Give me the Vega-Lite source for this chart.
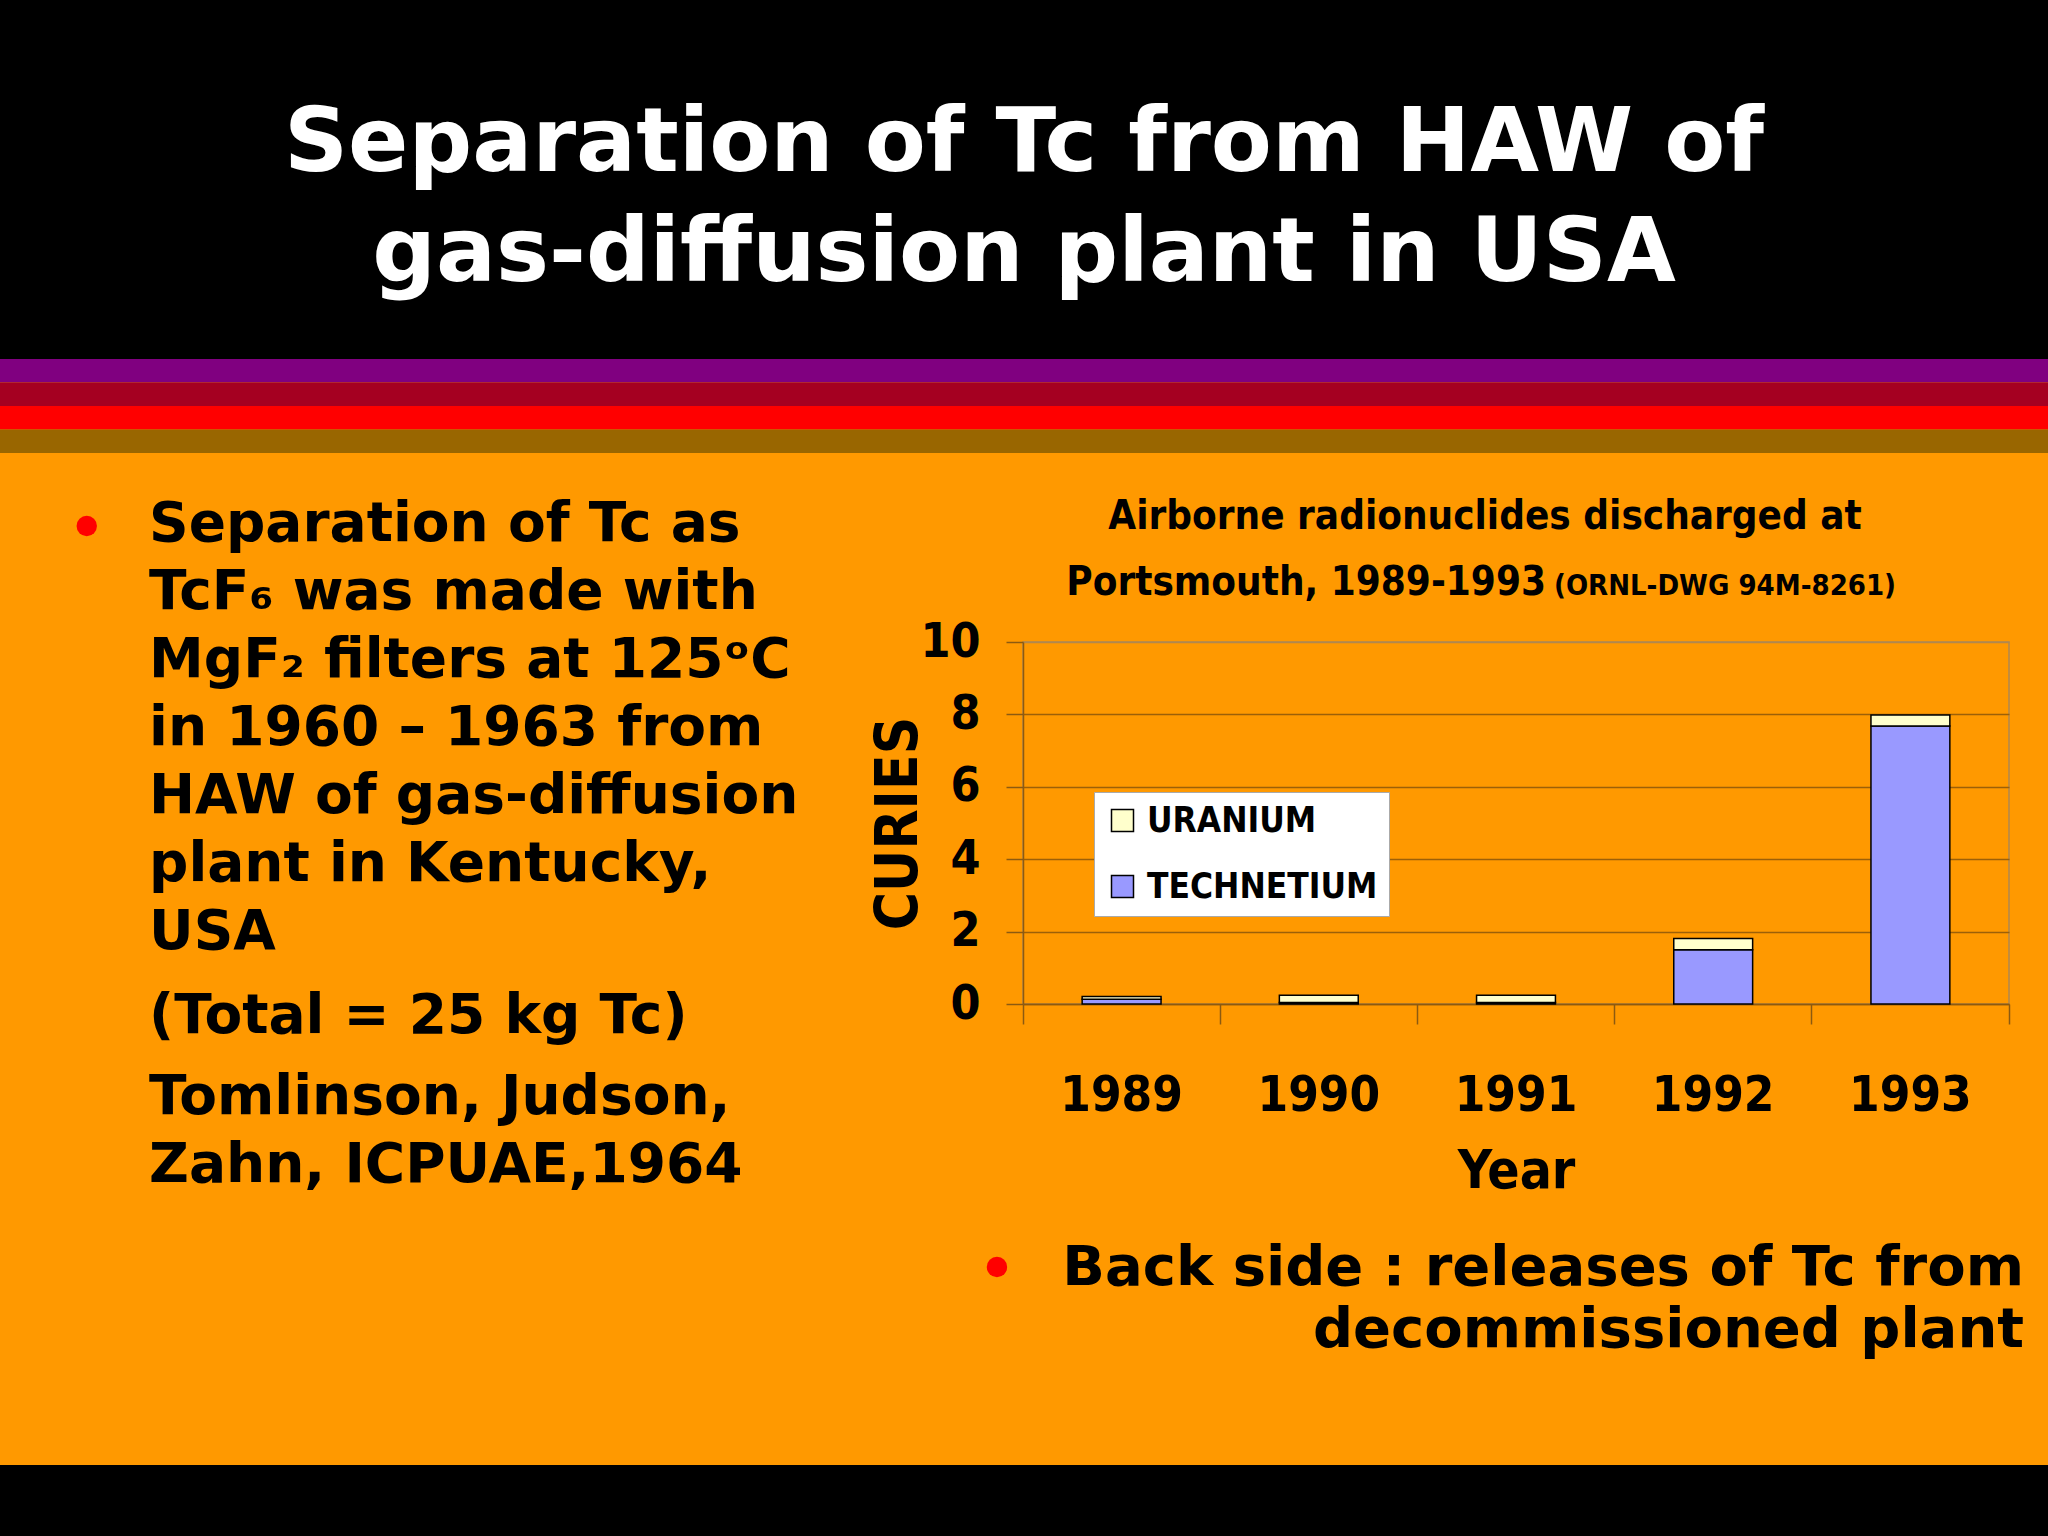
{
  "$schema": "https://vega.github.io/schema/vega-lite/v6.json",
  "background": "#FF9900",
  "padding": 0,
  "spacing": 0,
  "config": {
    "view": {"stroke": null},
    "axis": {"labelColor": "black", "titleColor": "black"}
  },
  "resolve": {"scale": {"color": "independent"}, "legend": {"color": "independent"}},
  "vconcat": [
    {
      "width": 2048,
      "height": 359,
      "data": {"values": [{"title": ["Separation of Tc from HAW of", "gas-diffusion plant in USA"]}]},
      "layer": [
        {"mark": {"type": "rect", "color": "black"}, "encoding": {}},
        {
          "mark": {"type": "text", "font": "DejaVu Sans", "fontWeight": "bold", "fontSize": 89, "color": "white", "align": "center", "baseline": "top", "lineHeight": 110},
          "encoding": {
            "text": {"field": "title", "type": "nominal"},
            "x": {"datum": 50, "type": "quantitative", "scale": {"domain": [0, 100]}, "axis": null},
            "y": {"datum": 28.0, "type": "quantitative", "scale": {"domain": [0, 100], "reverse": true}, "axis": null}
          }
        }
      ]
    },
    {
      "width": 2048,
      "height": 94,
      "data": {"values": [{"stripe": "purple"}, {"stripe": "wine"}, {"stripe": "red"}, {"stripe": "brown"}]},
      "mark": {"type": "rect"},
      "encoding": {
        "y": {"field": "stripe", "type": "nominal", "axis": null, "scale": {"domain": ["purple", "wine", "red", "brown"], "paddingInner": 0, "paddingOuter": 0}},
        "color": {"field": "stripe", "type": "nominal", "legend": null, "scale": {"domain": ["purple", "wine", "red", "brown"], "range": ["#800080", "#A50021", "#FF0000", "#996600"]}}
      }
    },
    {
      "spacing": 0,
      "resolve": {"scale": {"color": "independent"}, "legend": {"color": "independent"}},
      "hconcat": [
        {
          "width": 870,
          "height": 757,
          "layer": [
            {
              "data": {"values": [{"item": "bullet"}]},
              "mark": {"type": "point", "shape": "circle", "filled": true, "color": "#FF0000", "opacity": 1, "size": 415},
              "encoding": {
                "x": {"datum": 9.97, "type": "quantitative", "scale": {"domain": [0, 100]}, "axis": null},
                "y": {"datum": 9.64, "type": "quantitative", "scale": {"domain": [0, 100], "reverse": true}, "axis": null}
              }
            },
            {
              "data": {"values": [{"lines": ["Separation of Tc as", "TcF₆ was made with", "MgF₂ filters at 125ᵒC", "in 1960 – 1963 from", "HAW of gas-diffusion", "plant in Kentucky,", "USA"]}]},
              "mark": {"type": "text", "font": "DejaVu Sans", "fontWeight": "bold", "fontSize": 55, "color": "black", "align": "left", "baseline": "top", "lineHeight": 68},
              "encoding": {
                "text": {"field": "lines", "type": "nominal"},
                "x": {"datum": 17.13, "type": "quantitative"},
                "y": {"datum": 5.94, "type": "quantitative"}
              }
            },
            {
              "data": {"values": [{"lines": ["(Total = 25 kg Tc)"]}]},
              "mark": {"type": "text", "font": "DejaVu Sans", "fontWeight": "bold", "fontSize": 55, "color": "black", "align": "left", "baseline": "top", "lineHeight": 68},
              "encoding": {
                "text": {"field": "lines", "type": "nominal"},
                "x": {"datum": 17.13, "type": "quantitative"},
                "y": {"datum": 70.94, "type": "quantitative"}
              }
            },
            {
              "data": {"values": [{"lines": ["Tomlinson, Judson,", "Zahn, ICPUAE,1964"]}]},
              "mark": {"type": "text", "font": "DejaVu Sans", "fontWeight": "bold", "fontSize": 55, "color": "black", "align": "left", "baseline": "top", "lineHeight": 68},
              "encoding": {
                "text": {"field": "lines", "type": "nominal"},
                "x": {"datum": 17.13, "type": "quantitative"},
                "y": {"datum": 81.64, "type": "quantitative"}
              }
            }
          ]
        },
        {
          "spacing": 0,
          "resolve": {"scale": {"color": "independent"}, "legend": {"color": "independent"}},
          "vconcat": [
            {
              "width": 986,
              "height": 164,
              "layer": [
                {
                  "data": {"values": [{"line": "Airborne radionuclides discharged at"}]},
                  "mark": {"type": "text", "font": "DejaVu Sans Condensed", "fontWeight": "bold", "fontSize": 40, "color": "black", "align": "center", "baseline": "alphabetic"},
                  "encoding": {
                    "text": {"field": "line", "type": "nominal"},
                    "x": {"datum": 46.86, "type": "quantitative", "scale": {"domain": [0, 100]}, "axis": null},
                    "y": {"datum": 46.34, "type": "quantitative", "scale": {"domain": [0, 100], "reverse": true}, "axis": null}
                  }
                },
                {
                  "data": {"values": [{"line": "Portsmouth, 1989-1993"}]},
                  "mark": {"type": "text", "font": "DejaVu Sans Condensed", "fontWeight": "bold", "fontSize": 40, "color": "black", "align": "right", "baseline": "alphabetic"},
                  "encoding": {
                    "text": {"field": "line", "type": "nominal"},
                    "x": {"datum": 53.04, "type": "quantitative"},
                    "y": {"datum": 86.59, "type": "quantitative"}
                  }
                },
                {
                  "data": {"values": [{"line": "(ORNL-DWG 94M-8261)"}]},
                  "mark": {"type": "text", "font": "DejaVu Sans Condensed", "fontWeight": "bold", "fontSize": 29, "color": "black", "align": "left", "baseline": "alphabetic"},
                  "encoding": {
                    "text": {"field": "line", "type": "nominal"},
                    "x": {"datum": 53.85, "type": "quantitative"},
                    "y": {"datum": 86.59, "type": "quantitative"}
                  }
                }
              ]
            },
            {
              "width": 986,
              "height": 362,
              "view": {"stroke": "#B08850", "strokeWidth": 1.5},
              "data": {"values": [
                {"year": "1989", "nuclide": "TECHNETIUM", "curies": 0.13},
                {"year": "1989", "nuclide": "URANIUM", "curies": 0.08},
                {"year": "1990", "nuclide": "TECHNETIUM", "curies": 0.04},
                {"year": "1990", "nuclide": "URANIUM", "curies": 0.2},
                {"year": "1991", "nuclide": "TECHNETIUM", "curies": 0.04},
                {"year": "1991", "nuclide": "URANIUM", "curies": 0.2},
                {"year": "1992", "nuclide": "TECHNETIUM", "curies": 1.5},
                {"year": "1992", "nuclide": "URANIUM", "curies": 0.31},
                {"year": "1993", "nuclide": "TECHNETIUM", "curies": 7.68},
                {"year": "1993", "nuclide": "URANIUM", "curies": 0.3}
              ]},
              "layer": [
                {
                  "mark": {"type": "bar", "stroke": "black", "strokeWidth": 1.5},
                  "encoding": {
                    "x": {
                      "field": "year", "type": "ordinal",
                      "scale": {"paddingInner": 0.6, "paddingOuter": 0.3},
                      "axis": {"orient": "bottom", "title": "Year", "labelAngle": 0, "ticks": false, "grid": false,
                        "labelPadding": 67, "labelFont": "DejaVu Sans Condensed", "labelFontWeight": "bold", "labelFontSize": 49,
                        "domainColor": "#8C5A10", "domainWidth": 1.5,
                        "titleFont": "DejaVu Sans Condensed", "titleFontWeight": "bold", "titleFontSize": 53, "titlePadding": 25}
                    },
                    "y": {
                      "field": "curies", "type": "quantitative", "stack": "zero",
                      "scale": {"domain": [0, 10], "nice": false},
                      "axis": {"values": [0, 2, 4, 6, 8, 10], "title": "CURIES", "grid": true,
                        "gridColor": {"condition": {"test": "datum.value === 10", "value": "#B08850"}, "value": "#9C6008"},
                        "gridWidth": 1.5,
                        "tickSize": 17, "tickColor": "#8C5A10", "tickWidth": 1.5, "domainColor": "#8C5A10", "domainWidth": 1.5,
                        "labelPadding": 26, "labelFont": "DejaVu Sans Condensed", "labelFontWeight": "bold", "labelFontSize": 48,
                        "titleFont": "DejaVu Sans Condensed", "titleFontWeight": "bold", "titleFontSize": 58, "titlePadding": -9}
                    },
                    "order": {"field": "nuclide", "sort": "ascending"},
                    "color": {
                      "field": "nuclide", "type": "nominal",
                      "scale": {"domain": ["URANIUM", "TECHNETIUM"], "range": ["#FFFFCC", "#9999FF"]},
                      "legend": {"orient": "none", "legendX": 71, "legendY": 150, "title": null,
                        "fillColor": "white", "strokeColor": "#AAAAAA", "padding": 11,
                        "labelFont": "DejaVu Sans Condensed", "labelFontWeight": "bold", "labelFontSize": 35, "labelColor": "black", "labelLimit": 400,
                        "labelOffset": 7, "rowPadding": 30,
                        "symbolType": "square", "symbolSize": 484, "symbolStrokeColor": "black", "symbolStrokeWidth": 1.5, "symbolOpacity": 1}
                    }
                  }
                },
                {
                  "mark": {"type": "rule", "opacity": 0},
                  "encoding": {
                    "x": {
                      "field": "year", "type": "ordinal",
                      "scale": {"paddingInner": 0, "paddingOuter": 0},
                      "axis": {"orient": "bottom", "labels": false, "domain": false, "title": null, "grid": false,
                        "bandPosition": 1, "tickExtra": true, "tickSize": 20, "tickColor": "#8C5A10", "tickWidth": 1.5}
                    }
                  }
                }
              ],
              "resolve": {"scale": {"x": "independent"}, "axis": {"x": "independent"}}
            }
          ]
        }
      ]
    },
    {
      "width": 2048,
      "height": 255,
      "layer": [
        {
          "data": {"values": [{"item": "bullet"}]},
          "mark": {"type": "point", "shape": "circle", "filled": true, "color": "#FF0000", "opacity": 1, "size": 415},
          "encoding": {
            "x": {"datum": 48.68, "type": "quantitative", "scale": {"domain": [0, 100]}, "axis": null},
            "y": {"datum": 22.35, "type": "quantitative", "scale": {"domain": [0, 100], "reverse": true}, "axis": null}
          }
        },
        {
          "data": {"values": [{"lines": ["Back side : releases of Tc from", "decommissioned plant"]}]},
          "mark": {"type": "text", "font": "DejaVu Sans", "fontWeight": "bold", "fontSize": 56, "color": "black", "align": "right", "baseline": "top", "lineHeight": 62},
          "encoding": {
            "text": {"field": "lines", "type": "nominal"},
            "x": {"datum": 98.83, "type": "quantitative"},
            "y": {"datum": 12.16, "type": "quantitative"}
          }
        }
      ]
    },
    {
      "width": 2048,
      "height": 71,
      "data": {"values": [{"band": "footer"}]},
      "mark": {"type": "rect", "color": "black"},
      "encoding": {}
    }
  ]
}
